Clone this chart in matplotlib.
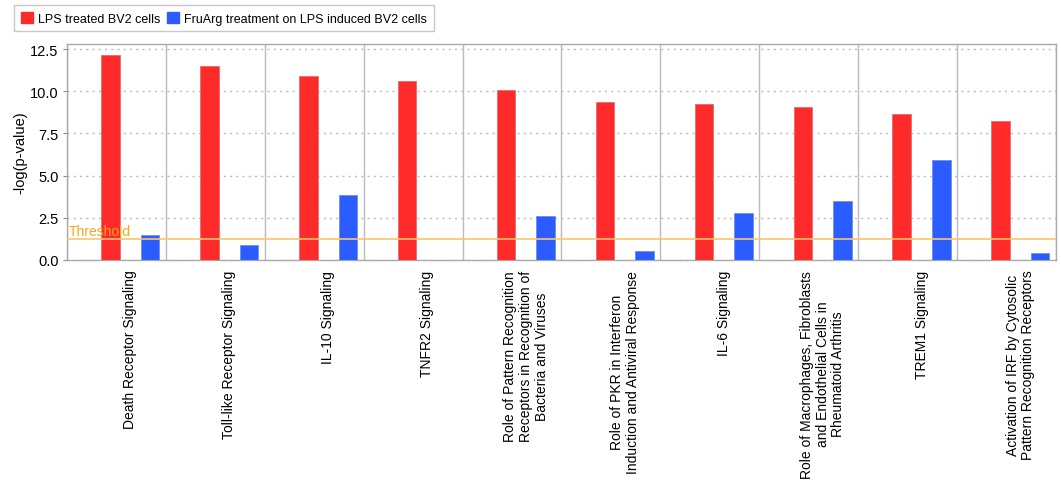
import matplotlib
matplotlib.use("Agg")
import matplotlib.pyplot as plt
from matplotlib.patches import Patch
import numpy as np

plt.rcParams["font.family"] = ["Liberation Sans", "DejaVu Sans"]

categories = [
    "Death Receptor Signaling",
    "Toll-like Receptor Signaling",
    "IL-10 Signaling",
    "TNFR2 Signaling",
    "Role of Pattern Recognition\nReceptors in Recognition of\nBacteria and Viruses",
    "Role of PKR in Interferon\nInduction and Antiviral Response",
    "IL-6 Signaling",
    "Role of Macrophages, Fibroblasts\nand Endothelial Cells in\nRheumatoid Arthritis",
    "TREM1 Signaling",
    "Activation of IRF by Cytosolic\nPattern Recognition Receptors",
]
lps_values = [12.16, 11.47, 10.92, 10.62, 10.09, 9.38, 9.26, 9.06, 8.63, 8.25]
fruarg_values = [1.48, 0.91, 3.85, 0.0, 2.59, 0.55, 2.78, 3.50, 5.90, 0.40]
series_names = ["LPS treated BV2 cells", "FruArg treatment on LPS induced BV2 cells"]
threshold = 1.24
y_ticks = [0.0, 2.5, 5.0, 7.5, 10.0, 12.5]

red = "#FF2B2B"
blue = "#2B5CFF"

fig = plt.figure(figsize=(10.61, 4.81), dpi=100)
ax = fig.add_axes([0.0631, 0.4574, 0.9322, 0.449])

x = np.arange(len(categories))
offset = 0.2
width = 0.187
ax.bar(x - offset, lps_values, width, color=red, edgecolor="#E07070", linewidth=0.6, zorder=3)
ax.bar(x + offset, fruarg_values, width, color=blue, edgecolor="#7090E0", linewidth=0.6, zorder=3)

# category separators
for b in np.arange(len(categories) + 1) - 0.64:
    ax.axvline(b, color="#BBBBBB", linewidth=1.0, zorder=1)

ax.set_xlim(-0.64, len(categories) - 0.64)
ax.set_ylim(0, 12.8)
ax.set_yticks(y_ticks)
ax.set_yticklabels([f"{v:.1f}" for v in y_ticks], fontsize=10.5)
ax.yaxis.grid(True, linestyle=(0, (1.5, 3)), color="#BBBBBB", linewidth=1.0, zorder=0)
ax.set_axisbelow(True)

ax.axhline(threshold, color="#FFC36A", linewidth=1.2, zorder=4)
ax.text(-0.62, threshold + 0.08, "Threshold", color="#FFA41C", fontsize=10,
        ha="left", va="bottom", zorder=5)

ax.set_xticks(x)
ax.set_xticklabels(categories, rotation=90, fontsize=10, ha="center", va="top",
                   multialignment="center", linespacing=1.15)
ax.tick_params(axis="x", length=0, pad=7)
ax.tick_params(axis="y", length=3, color="#888888", pad=3)

ax.set_ylabel("-log(p-value)", fontsize=10.5, labelpad=2)

for s in ax.spines.values():
    s.set_color("#AAAAAA")
    s.set_linewidth(1.0)

handles = [Patch(facecolor=red, edgecolor=red), Patch(facecolor=blue, edgecolor=blue)]
leg = fig.legend(handles, series_names, loc="upper left",
                 bbox_to_anchor=(14 / 1061, 1 - 6 / 481), ncol=2, fontsize=9,
                 frameon=True, fancybox=False, edgecolor="#BBBBBB",
                 handlelength=0.95, handleheight=0.95, handletextpad=0.45,
                 columnspacing=0.5, borderpad=0.55, borderaxespad=0)
leg.get_frame().set_linewidth(1.0)

fig.savefig("out.png", dpi=100)
